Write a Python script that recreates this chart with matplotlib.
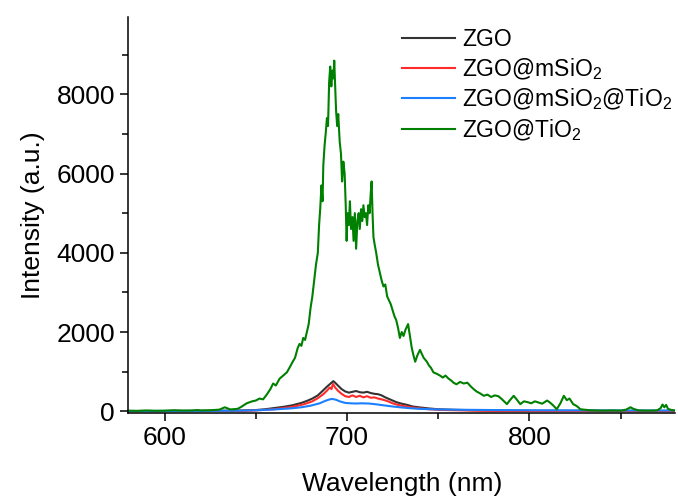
import numpy as np
import matplotlib
matplotlib.use('Agg')
import matplotlib.pyplot as plt
from matplotlib.ticker import MultipleLocator

plt.rcParams['font.family'] = ['Liberation Sans', 'DejaVu Sans']
plt.rcParams['mathtext.fontset'] = 'custom'
plt.rcParams['mathtext.rm'] = 'Liberation Sans'
plt.rcParams['mathtext.it'] = 'Liberation Sans:italic'

# green: ZGO@TiO2
wl_tio2 = [580, 585, 590, 595, 600, 605, 610, 615, 618, 620, 625, 630, 633, 636, 640,
           642, 645, 648, 650, 652, 654, 656, 658, 659.5, 661, 663, 665, 667, 668.5, 670,
           671.5, 673, 674, 675, 676, 677, 678, 679, 680, 681, 682, 683, 684, 684.7, 685.3,
           686, 686.6, 687, 687.7, 688.3, 689, 689.6, 690.2, 690.8, 691.4, 692, 692.6, 693,
           693.5, 694, 694.6, 695.2, 696, 696.7, 697.3, 698, 698.7, 699.3, 699.8, 700.3,
           701, 701.6, 702.2, 703, 703.6, 704.3, 705, 705.7, 706.4, 707, 707.7, 708.4, 709,
           709.7, 710.4, 711, 711.7, 712.4, 713, 713.5, 714, 714.5, 715.2, 716, 717, 718,
           719, 720, 721, 722, 723, 724, 725, 726, 727, 728, 729, 730, 731, 732, 733.5,
           734.5, 735.5, 736.5, 737.4, 738.5, 740, 741, 742, 743.8, 745, 746, 747.4, 749,
           751, 752.5, 754, 755.5, 757, 758.4, 760, 762, 764, 766, 768, 769.4, 771, 773,
           775, 777, 779, 781, 783, 785, 787.7, 789, 791.4, 793, 795, 797, 799, 801, 803,
           805, 807, 809.7, 811, 813, 815, 817, 818.9, 820.5, 822, 824, 826, 828, 830, 833,
           836, 840, 845, 850, 853, 855.5, 857, 860, 865, 870, 872, 873, 874, 875, 876, 878,
           880]
int_tio2 = [15, 10, 20, 12, 15, 25, 18, 20, 30, 20, 25, 40, 100, 45, 60,
            110, 200, 250, 270, 320, 300, 420, 560, 700, 650, 820, 900, 980, 1100, 1230,
            1350, 1600, 1700, 1650, 1850, 1800, 2000, 2200, 2600, 2900, 3300, 3700, 4000, 4700, 5100,
            5700, 5300, 6200, 6700, 7000, 7400, 7200, 8300, 8700, 8200, 8600, 8400, 8850,
            8200, 7600, 7200, 7500, 6800, 6500, 5800, 6300, 6000, 5200, 4300, 5000,
            4700, 5300, 4600, 4900, 4300, 5000, 4100, 4800, 5000, 4600, 5100, 4800, 5200,
            4900, 5000, 4700, 5200, 5000, 5500, 5800, 5000, 4400, 4200, 4000, 3700, 3500,
            3300, 3150, 3200, 2900, 2800, 2700, 2550, 2400, 2300, 2100, 1850, 2000, 1900, 2050, 2200,
            1900, 1600, 1400, 1250, 1400, 1550, 1450, 1350, 1250, 1150, 1100, 980, 950,
            900, 850, 900, 830, 780, 720, 680, 740, 700, 720, 620, 560, 500, 450,
            390, 420, 360, 400, 380, 300, 180, 260, 390, 300, 180, 250, 230, 200, 250,
            220, 190, 270, 230, 150, 50, 200, 390, 280, 320, 180, 130, 50, 40, 25,
            20, 15, 20, 15, 40, 100, 60, 20, 15, 20, 80, 170, 100, 160, 60, 30,
            20]

# black: ZGO
wl_zgo = [580, 600, 620, 640, 650, 655, 660, 665, 670, 675, 678, 681, 684, 687, 689, 691,
          692.5, 693.5, 695, 697, 699, 701, 703, 705, 707, 709, 711, 713, 715, 717, 719,
          721, 724, 727, 730, 733, 736, 740, 745, 750, 760, 770, 780, 800, 820, 850, 880]
int_zgo = [5, 5, 8, 15, 30, 50, 80, 110, 150, 210, 260, 320, 400, 530, 620, 700,
           760, 720, 650, 560, 500, 470, 490, 510, 480, 470, 490, 460, 440, 430, 400,
           350, 290, 230, 190, 160, 120, 95, 70, 50, 35, 25, 15, 10, 8, 5, 5]

# red: ZGO@mSiO2
wl_msio2 = [580, 620, 640, 650, 660, 665, 670, 675, 678, 681, 684, 687, 689, 690.5, 691.5,
            692.3, 693.5, 695, 697, 699, 701, 703, 705, 707, 709, 711, 713, 715, 717, 719,
            722, 725, 728, 731, 735, 740, 745, 750, 760, 770, 780, 800, 880]
int_msio2 = [5, 5, 10, 20, 50, 80, 110, 160, 200, 250, 330, 430, 520, 600, 560,
             690, 600, 520, 440, 380, 360, 400, 360, 390, 350, 380, 340, 350, 320, 300,
             260, 200, 160, 130, 100, 70, 50, 35, 25, 15, 10, 8, 5]

# blue: ZGO@mSiO2@TiO2
wl_msio2_tio2 = [580, 620, 640, 650, 660, 670, 675, 680, 685, 688, 690.5, 692, 694, 696,
                 699, 702, 705, 708, 712, 716, 720, 725, 730, 735, 740, 750, 760, 780,
                 800, 830, 860, 880]
int_msio2_tio2 = [5, 8, 15, 25, 45, 75, 100, 140, 200, 260, 300, 310, 290, 250,
                  210, 200, 195, 200, 195, 175, 150, 120, 95, 75, 60, 45, 38, 30,
                  25, 22, 20, 20]

fig = plt.figure(figsize=(6.78, 5.01), dpi=100)
ax = fig.add_axes([0.189, 0.176, 0.807, 0.79])

ax.plot(wl_zgo, int_zgo, color='#333333', lw=1.5, label='ZGO')
ax.plot(wl_msio2, int_msio2, color='#ff2a2a', lw=1.5, label='ZGO@mSiO$_2$')
ax.plot(wl_msio2_tio2, int_msio2_tio2, color='#1a80ff', lw=1.5, label='ZGO@mSiO$_2$@TiO$_2$')
ax.plot(wl_tio2, int_tio2, color='#008000', lw=1.5, label='ZGO@TiO$_2$')

ax.set_xlim(580, 880)
ax.set_ylim(-40, 9950)
ax.xaxis.set_major_locator(MultipleLocator(100))
ax.xaxis.set_minor_locator(MultipleLocator(50))
ax.yaxis.set_major_locator(MultipleLocator(2000))
ax.yaxis.set_minor_locator(MultipleLocator(1000))
ax.spines['top'].set_visible(False)
ax.spines['right'].set_visible(False)
for s in ['left', 'bottom']:
    ax.spines[s].set_linewidth(1.1)
ax.tick_params(which='major', length=6, width=1.1, labelsize=19, direction='out')
ax.tick_params(which='minor', length=4, width=1.1, direction='out')

ax.set_xlabel('Wavelength (nm)', fontsize=19, labelpad=16)
ax.set_ylabel('Intensity (a.u.)', fontsize=19, labelpad=8)

ax.legend(loc='upper left', bbox_to_anchor=(0.48, 1.0), frameon=False, fontsize=16.5,
          handlelength=2.3, handletextpad=0.3, labelspacing=0.2, borderaxespad=0.1)

fig.savefig('out.png', dpi=100)
